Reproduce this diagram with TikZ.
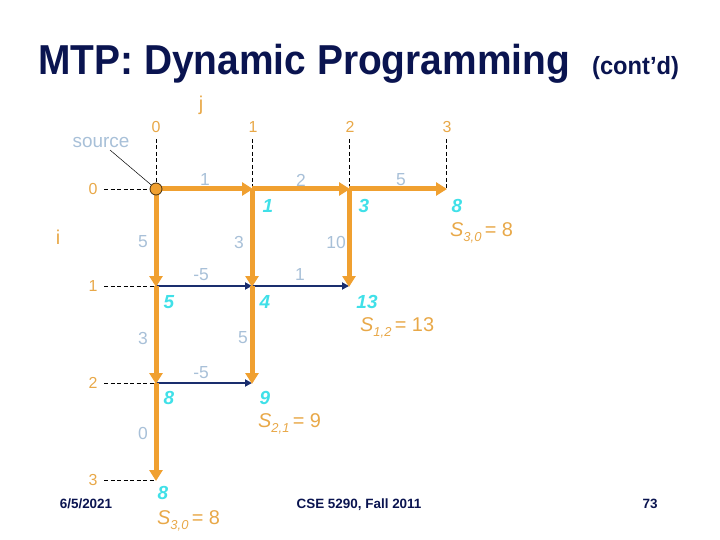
\documentclass[tikz,border=0pt]{standalone}
\usepackage{fontspec}
\setmainfont{Liberation Sans}
\usetikzlibrary{arrows.meta}
\definecolor{navy}{HTML}{0A1450}
\definecolor{dpblue}{HTML}{1A2E6E}
\definecolor{org}{HTML}{F0A030}
\definecolor{orgtxt}{HTML}{E8A848}
\definecolor{cyn}{HTML}{40E0E8}
\definecolor{wgt}{HTML}{A8C0D8}
\tikzset{
  orgarrow/.style={draw=org, line width=5bp, -{Triangle[length=11bp,width=13bp]}, shorten >=-1bp},
  bluearrow/.style={draw=dpblue, line width=2.4bp, -{Triangle[length=7bp,width=7bp]}},
  guide/.style={draw=black, line width=0.7bp, dash pattern=on 4bp off 2.5bp},
  wlabel/.style={text=wgt, font=\fontsize{17.5}{17.5}\selectfont, inner sep=0pt},
  idx/.style={text=orgtxt, font=\fontsize{16}{16}\selectfont, inner sep=0pt},
  axis/.style={text=orgtxt, font=\fontsize{20}{20}\selectfont, inner sep=0pt},
  score/.style={text=cyn, font=\fontsize{19}{19}\selectfont\bfseries\itshape, inner sep=0pt},
  slabel/.style={text=orgtxt, font=\fontsize{20}{20}\selectfont, inner sep=0pt, anchor=west},
  foot/.style={text=navy, font=\fontsize{13.5}{13.5}\selectfont\bfseries, inner sep=0pt, anchor=base}
}
\begin{document}
\begin{tikzpicture}[x=1bp,y=-1bp]
\useasboundingbox (0,0) rectangle (720,540);
% title
\node[text=navy, anchor=base west, inner sep=0pt, xscale=0.93] (title) at (38,75)
  {\fontsize{42}{42}\selectfont\bfseries MTP: Dynamic Programming};
\node[text=navy, anchor=base west, inner sep=0pt, xscale=0.95] (cont) at (592,75)
  {\fontsize{25}{25}\selectfont\bfseries (cont'd)};
% grid coordinates
\foreach \j/\x in {0/156,1/252,2/349,3/446}{
  \foreach \i/\y in {0/189,1/286,2/383,3/480}{
    \coordinate (g\i\j) at (\x,\y);
  }
}
% column labels
\node[axis] (j) at (201,105) {j};
\node[idx] (c0) at (156,127) {0};
\node[idx] (c1) at (253,127) {1};
\node[idx] (c2) at (350,127) {2};
\node[idx] (c3) at (447,127) {3};
\coordinate (c0b) at (156,139);
\coordinate (c1b) at (252,139);
\coordinate (c2b) at (349,139);
\coordinate (c3b) at (446,139);
\draw[guide] (c0b) -- (g00);
\draw[guide] (c1b) -- (g01);
\draw[guide] (c2b) -- (g02);
\draw[guide] (c3b) -- (g03);
% row labels
\node[axis] (i) at (58,237) {i};
\node[idx] (r0) at (93,189) {0};
\node[idx] (r1) at (93,286) {1};
\node[idx] (r2) at (93,383) {2};
\node[idx] (r3) at (93,480) {3};
\coordinate (r0b) at (104,189);
\coordinate (r1b) at (104,286);
\coordinate (r2b) at (104,383);
\coordinate (r3b) at (104,480);
\draw[guide] (r0b) -- (g00);
\draw[guide] (r1b) -- (g10);
\draw[guide] (r2b) -- (g20);
\draw[guide] (r3b) -- (g30);
% source
\node[text=wgt, font=\fontsize{19}{19}\selectfont, inner sep=0pt] (source) at (101,143) {source};
\coordinate (srcl) at (110,150);
% blue arrows
\draw[bluearrow] (g10) -- (g11);
\draw[bluearrow] (g11) -- (g12);
\draw[bluearrow] (g20) -- (g21);
% orange arrows
\draw[orgarrow] (g00) -- (g01);
\draw[orgarrow] (g01) -- (g02);
\draw[orgarrow] (g02) -- (g03);
\draw[orgarrow] (g00) -- (g10);
\draw[orgarrow] (g10) -- (g20);
\draw[orgarrow] (g20) -- (g30);
\draw[orgarrow] (g01) -- (g11);
\draw[orgarrow] (g11) -- (g21);
\draw[orgarrow] (g02) -- (g12);
\node[circle, fill=org, draw=black!70!org, line width=0.8bp, minimum size=12bp, inner sep=0pt] (src) at (g00) {};
\draw[black, line width=0.5bp] (srcl) -- (src);
% weights
\node[wlabel] (w1) at (205,180) {1};
\node[wlabel] (w2) at (301,180) {2};
\node[wlabel] (w3) at (401,180) {5};
\node[wlabel] (w4) at (143,242) {5};
\node[wlabel] (w5) at (239,242) {3};
\node[wlabel] (w6) at (336,242) {10};
\node[wlabel] (w7) at (201,275) {-5};
\node[wlabel] (w8) at (300,275) {1};
\node[wlabel] (w9) at (143,338) {3};
\node[wlabel] (w10) at (243,338) {5};
\node[wlabel] (w11) at (201,373) {-5};
\node[wlabel] (w12) at (143,433) {0};
% scores
\node[score] (s01) at (268,206) {1};
\node[score] (s02) at (364,206) {3};
\node[score] (s03) at (457,206) {8};
\node[score] (s10) at (169,302) {5};
\node[score] (s11) at (265,302) {4};
\node[score] (s12) at (367,302) {13};
\node[score] (s20) at (169,398) {8};
\node[score] (s21) at (265,398) {9};
\node[score] (s30) at (163,493) {8};
% S labels
\node[slabel] (S30a) at (450,233) {\textit{S}\raisebox{-0.45ex}{\fontsize{13}{13}\selectfont\itshape 3,0}\,= 8};
\node[slabel] (S12) at (360,328) {\textit{S}\raisebox{-0.45ex}{\fontsize{13}{13}\selectfont\itshape 1,2}\,= 13};
\node[slabel] (S21) at (258,424) {\textit{S}\raisebox{-0.45ex}{\fontsize{13}{13}\selectfont\itshape 2,1}\,= 9};
\node[slabel] (S30b) at (157,521) {\textit{S}\raisebox{-0.45ex}{\fontsize{13}{13}\selectfont\itshape 3,0}\,= 8};
% footer
\node[foot] (date) at (86,508) {6/5/2021};
\node[foot] (course) at (359,508) {CSE 5290, Fall 2011};
\node[foot] (page) at (650,508) {73};
\end{tikzpicture}
\end{document}
